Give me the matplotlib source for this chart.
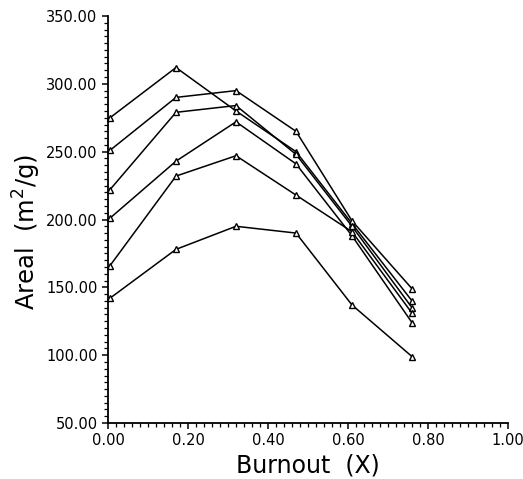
import matplotlib
matplotlib.use("Agg")
import matplotlib.pyplot as plt
from matplotlib.ticker import MultipleLocator, FormatStrFormatter

burnout = [0.005, 0.17, 0.32, 0.47, 0.61, 0.76]
series = [
    [275, 312, 280, 250, 197, 140],
    [251, 290, 295, 265, 199, 149],
    [222, 279, 284, 248, 195, 135],
    [201, 243, 272, 241, 188, 124],
    [166, 232, 247, 218, 191, 131],
    [142, 178, 195, 190, 137, 99],
]

plt.rcParams['font.family'] = ['DejaVu Sans']
fig = plt.figure(figsize=(5.23, 4.79), dpi=100)
ax = fig.add_axes([0.2065, 0.1169, 0.7648, 0.8497])

for s in series:
    ax.plot(burnout, s, color='black', linewidth=1.1, marker='^',
            markersize=5, markerfacecolor='white', markeredgecolor='black',
            markeredgewidth=1.0, clip_on=False)

ax.set_xlim(0, 1.0)
ax.set_ylim(50, 350)
ax.xaxis.set_major_locator(MultipleLocator(0.2))
ax.xaxis.set_minor_locator(MultipleLocator(0.02))
ax.yaxis.set_major_locator(MultipleLocator(50))
ax.yaxis.set_minor_locator(MultipleLocator(5))
ax.xaxis.set_major_formatter(FormatStrFormatter('%.2f'))
ax.yaxis.set_major_formatter(FormatStrFormatter('%.2f'))

for sp in ['top', 'right']:
    ax.spines[sp].set_visible(False)
for sp in ['left', 'bottom']:
    ax.spines[sp].set_linewidth(1.3)

ax.tick_params(axis='both', which='major', direction='out', length=4.5, width=1.1,
               labelsize=10.5, pad=3)
ax.tick_params(axis='both', which='minor', direction='out', length=3, width=0.9)

ax.set_xlabel('Burnout  (X)', fontsize=17, labelpad=4)
ax.set_ylabel('Areal  (m$^2$/g)', fontsize=17.5)
ax.yaxis.set_label_coords(-0.162, 0.47)

fig.savefig('out.png', dpi=100)
